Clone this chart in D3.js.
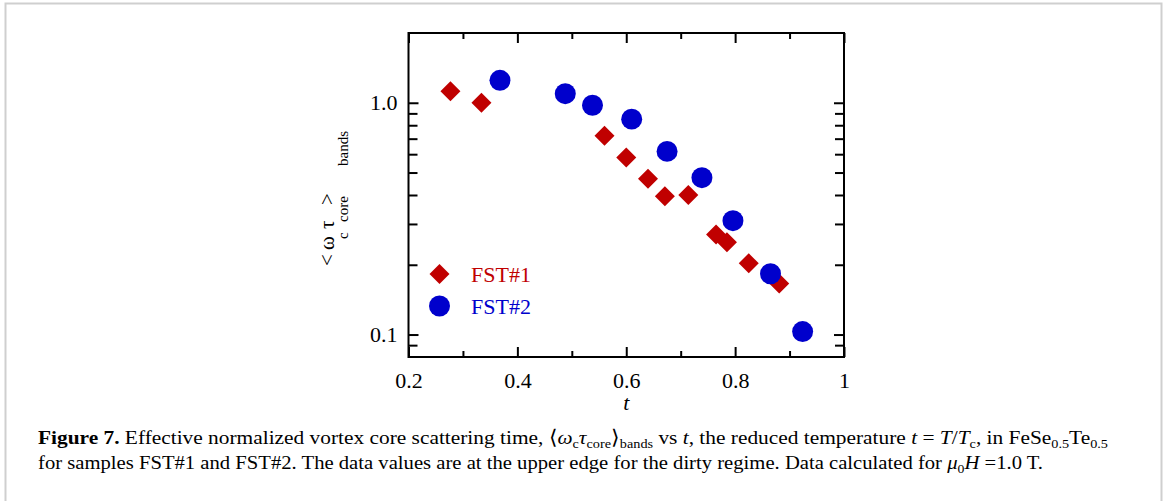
<!DOCTYPE html>
<html>
<head>
<meta charset="utf-8">
<script src="https://cdn.jsdelivr.net/npm/d3@7"></script>
<style>
  html, body { margin: 0; padding: 0; background: #fff; }
  svg { display: block; }
  text { font-family: "Liberation Serif", "Times New Roman", serif; }
</style>
</head>
<body>
<script>
// ---- data ----
const seriesNames = ["FST#1", "FST#2"];
const tFST1 = [0.277, 0.334, 0.560, 0.600, 0.640, 0.671, 0.714, 0.765, 0.785, 0.825, 0.881];
const vFST1 = [1.12, 1.00, 0.72, 0.58, 0.47, 0.395, 0.40, 0.27, 0.25, 0.203, 0.166];
const tFST2 = [0.368, 0.488, 0.538, 0.610, 0.675, 0.739, 0.796, 0.865, 0.924];
const vFST2 = [1.25, 1.095, 0.976, 0.85, 0.617, 0.475, 0.31, 0.183, 0.103];
const xMajorTicks = [0.2, 0.4, 0.6, 0.8, 1.0];
const xTickLabels = ["0.2", "0.4", "0.6", "0.8", "1"];
const xMinorTicks = [0.3, 0.5, 0.7, 0.9];
const yMajorTicks = [0.1, 1.0];
const yTickLabels = ["0.1", "1.0"];
const yMinorTicks = [0.09, 0.2, 0.3, 0.4, 0.5, 0.6, 0.7, 0.8, 0.9];

const W = 1165, H = 501;
const L = 408.5, R = 844, T = 33, B = 357;
const RED = "#c00000", BLUE = "#0000cc";

const svg = d3.select("body").append("svg").attr("width", W).attr("height", H);

// page frame
svg.append("path")
  .attr("d", `M5.5,${H} V3.5 H1161.5 V${H}`)
  .attr("fill", "none").attr("stroke", "#cfcfcf").attr("stroke-width", 2);

const x = d3.scaleLinear().domain([0.2, 1.0]).range([L, R]);
const y = d3.scaleLog().domain([0.08, 2]).range([B, T]);

function styleAxis(g) {
  g.select(".domain").remove();
  g.selectAll(".tick line").attr("stroke", "#000").attr("stroke-width", 2);
  g.selectAll(".tick text").attr("fill", "#000")
    .style("font-family", '"Liberation Serif", serif').style("font-size", "22px");
}

// bottom
svg.append("g").attr("transform", `translate(0,${B})`)
  .call(d3.axisBottom(x).tickValues(xMajorTicks).tickSize(-10).tickPadding(15)
    .tickFormat((d, i) => xTickLabels[i]))
  .call(styleAxis);
svg.append("g").attr("transform", `translate(0,${B})`)
  .call(d3.axisBottom(x).tickValues(xMinorTicks).tickSize(-6).tickFormat(""))
  .call(styleAxis);
// top
svg.append("g").attr("transform", `translate(0,${T})`)
  .call(d3.axisTop(x).tickValues(xMajorTicks).tickSize(-10).tickFormat(""))
  .call(styleAxis);
svg.append("g").attr("transform", `translate(0,${T})`)
  .call(d3.axisTop(x).tickValues(xMinorTicks).tickSize(-6).tickFormat(""))
  .call(styleAxis);
// left
svg.append("g").attr("transform", `translate(${L},0)`)
  .call(d3.axisLeft(y).tickValues(yMajorTicks).tickSize(-10).tickPadding(11)
    .tickFormat((d, i) => yTickLabels[i]))
  .call(styleAxis);
svg.append("g").attr("transform", `translate(${L},0)`)
  .call(d3.axisLeft(y).tickValues(yMinorTicks).tickSize(-9).tickFormat(""))
  .call(styleAxis);
// right
svg.append("g").attr("transform", `translate(${R},0)`)
  .call(d3.axisRight(y).tickValues(yMajorTicks).tickSize(-10).tickFormat(""))
  .call(styleAxis);
svg.append("g").attr("transform", `translate(${R},0)`)
  .call(d3.axisRight(y).tickValues(yMinorTicks).tickSize(-9).tickFormat(""))
  .call(styleAxis);

// frame
svg.append("rect").attr("x", L).attr("y", T).attr("width", R - L).attr("height", B - T)
  .attr("fill", "none").attr("stroke", "#000").attr("stroke-width", 2);

// markers
const diamond = d3.symbol().type(d3.symbolSquare).size(200);
const circle = d3.symbol().type(d3.symbolCircle).size(346);

const d1 = tFST1.map((t, i) => ({ t, v: vFST1[i] }));
const d2 = tFST2.map((t, i) => ({ t, v: vFST2[i] }));

svg.append("g").selectAll("path").data(d1).join("path")
  .attr("d", diamond)
  .attr("transform", d => `translate(${x(d.t)},${y(d.v)}) rotate(45)`)
  .attr("fill", RED);
svg.append("g").selectAll("path").data(d2).join("path")
  .attr("d", circle)
  .attr("transform", d => `translate(${x(d.t)},${y(d.v)})`)
  .attr("fill", BLUE);

// legend
const leg = svg.append("g");
const legItems = [
  { name: seriesNames[0], sym: diamond, rot: 45, color: RED, y: 274 },
  { name: seriesNames[1], sym: circle, rot: 0, color: BLUE, y: 306 }
];
legItems.forEach(it => {
  leg.append("path").attr("d", it.sym)
    .attr("transform", `translate(439.5,${it.y}) rotate(${it.rot})`)
    .attr("fill", it.color);
  leg.append("text").attr("x", 471).attr("y", it.y + 8)
    .attr("fill", it.color).style("font-size", "22px").text(it.name);
});

// x axis title
svg.append("text").attr("x", (L + R) / 2).attr("y", 410)
  .attr("text-anchor", "middle").style("font-size", "22px").style("font-style", "italic").text("t");

// y axis title (rotated)
const yl = svg.append("g").attr("transform", "translate(334,0) rotate(-90)");
const ylParts = [
  { s: "<", at: 266, sub: false },
  { s: "ω", at: 250, sub: false },
  { s: "τ", at: 229, sub: false },
  { s: "c", at: 239, sub: true },
  { s: "core", at: 222, sub: true },
  { s: ">", at: 205, sub: false },
  { s: "bands", at: 166, sub: true }
];
ylParts.forEach(p => {
  yl.append("text").attr("x", -p.at).attr("y", p.sub ? 14 : 0)
    .style("font-size", p.sub ? "15px" : "21px").attr("fill", "#000").text(p.s);
});

// caption
const SUB = "13px";
const cap = svg.append("g").style("font-size", "19.5px").attr("fill", "#000");
const l1 = cap.append("text").attr("x", 38).attr("y", 444)
  .attr("textLength", 1070).attr("lengthAdjust", "spacingAndGlyphs");
l1.append("tspan").style("font-weight", "bold").text("Figure 7.");
l1.append("tspan").text(" Effective normalized vortex core scattering time, \u27E8");
l1.append("tspan").style("font-style", "italic").text("ω");
l1.append("tspan").attr("dy", 4).style("font-size", SUB).text("c");
l1.append("tspan").attr("dy", -4).style("font-style", "italic").text("τ");
l1.append("tspan").attr("dy", 4).style("font-size", SUB).text("core");
l1.append("tspan").attr("dy", -4).text("\u27E9");
l1.append("tspan").attr("dy", 4).style("font-size", SUB).text("bands");
l1.append("tspan").attr("dy", -4).text(" vs ");
l1.append("tspan").style("font-style", "italic").text("t");
l1.append("tspan").text(", the reduced temperature ");
l1.append("tspan").style("font-style", "italic").text("t");
l1.append("tspan").text(" = ");
l1.append("tspan").style("font-style", "italic").text("T");
l1.append("tspan").text("/");
l1.append("tspan").style("font-style", "italic").text("T");
l1.append("tspan").attr("dy", 4).style("font-size", SUB).text("c");
l1.append("tspan").attr("dy", -4).text(", in FeSe");
l1.append("tspan").attr("dy", 4).style("font-size", SUB).text("0.5");
l1.append("tspan").attr("dy", -4).text("Te");
l1.append("tspan").attr("dy", 4).style("font-size", SUB).text("0.5");

const l2 = cap.append("text").attr("x", 38).attr("y", 469)
  .attr("textLength", 1005).attr("lengthAdjust", "spacingAndGlyphs");
l2.append("tspan").text("for samples FST#1 and FST#2. The data values are at the upper edge for the dirty regime. Data calculated for ");
l2.append("tspan").style("font-style", "italic").text("μ");
l2.append("tspan").attr("dy", 4).style("font-size", SUB).text("0");
l2.append("tspan").attr("dy", -4).style("font-style", "italic").text("H");
l2.append("tspan").text(" =1.0 T.");
</script>
</body>
</html>
